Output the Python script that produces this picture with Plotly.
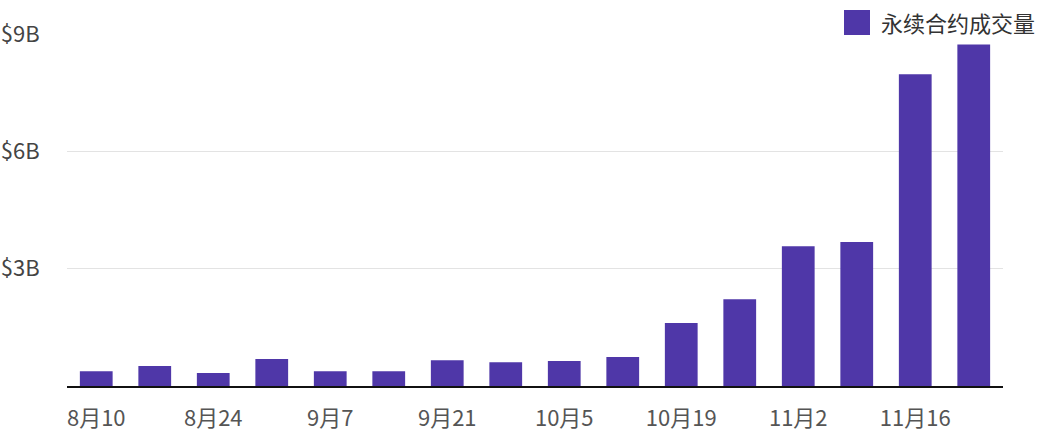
import plotly.graph_objects as go

weeks = ["8月10", "8月17", "8月24", "8月31", "9月7", "9月14", "9月21", "9月28",
         "10月5", "10月12", "10月19", "10月26", "11月2", "11月9", "11月16", "11月23"]
volume_b = [0.38, 0.51, 0.33, 0.69, 0.38, 0.38, 0.66, 0.61,
            0.64, 0.74, 1.61, 2.22, 3.57, 3.68, 7.97, 8.73]
series_name = "永续合约成交量"
y_ticks = [3, 6, 9]
y_ticktext = ["$3B", "$6B", "$9B"]

BAR = "#4f37a8"
FONT = "Noto Sans CJK SC, Noto Sans, sans-serif"

fig = go.Figure()
fig.add_trace(go.Bar(x=weeks, y=volume_b, marker_color=BAR, marker_line_width=0,
                     name=series_name, showlegend=False))

fig.update_layout(
    width=1048, height=434,
    margin=dict(l=67, r=45, t=34, b=48, autoexpand=False),
    paper_bgcolor="white", plot_bgcolor="white",
    bargap=0.44,
    font=dict(family=FONT, size=22, color="#555555"),
    xaxis=dict(type="category", categoryorder="array", categoryarray=weeks,
               tickvals=weeks[::2], showgrid=False, showline=True,
               linecolor="#111111", linewidth=1.5, automargin=False,
               ticks="outside", ticklen=12, tickcolor="rgba(0,0,0,0)",
               tickfont=dict(size=22, color="#555555")),
    yaxis=dict(range=[0, 9], tickvals=y_ticks, ticktext=y_ticktext,
               showgrid=True, gridcolor="#e3e3e3", gridwidth=1,
               zeroline=False, showline=False, automargin=False,
               ticks="outside", ticklen=22, tickcolor="rgba(0,0,0,0)",
               tickfont=dict(size=22, color="#444444")),
    shapes=[dict(type="rect", xref="paper", yref="paper",
                 x0=(844 - 67) / 936, x1=(870 - 67) / 936,
                 y0=(386 - 35) / 352, y1=(386 - 10) / 352,
                 fillcolor=BAR, line_width=0)],
    annotations=[dict(text=series_name, xref="paper", yref="paper",
                      x=(879 - 67) / 936, y=(386 - 22.5) / 352,
                      xanchor="left", yanchor="middle", showarrow=False,
                      font=dict(size=22, color="#333333", family=FONT))],
)

fig.write_html("out.html", config={"displayModeBar": False},
               post_script="document.body.style.margin='0';document.body.style.padding='0';")
